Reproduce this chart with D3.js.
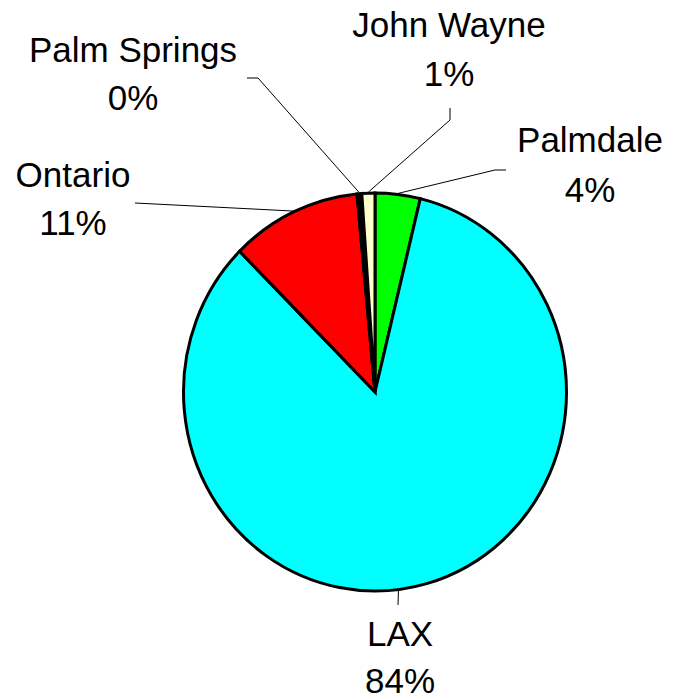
<!DOCTYPE html>
<html>
<head>
<meta charset="utf-8">
<script src="https://cdn.jsdelivr.net/npm/d3@7"></script>
<style>
  body { margin: 0; background: #fff; }
  .label { font-family: "Liberation Sans", Arial, sans-serif; font-size: 35px; fill: #000; }
  .slice { stroke: #000; stroke-width: 3px; }
  .leader { fill: none; stroke: #000; stroke-width: 1px; }
</style>
</head>
<body>
<svg id="chart" width="677" height="699"></svg>
<script>
var airports = ["Palmdale", "LAX", "Ontario", "Palm Springs", "John Wayne"];
var shares = [3.8, 83.7, 11.0, 0.4, 1.1];
var pctLabels = ["4%", "84%", "11%", "0%", "1%"];
var colors = ["#00ff00", "#00ffff", "#ff0000", "#000000", "#ffffcc"];

// label placement (text centre + first baseline, leader start/elbow)
var layout = [
  {x: 590, y: 152, dy: 49.5, lead: [[506, 170], [495, 170]]},
  {x: 400, y: 646, dy: 47, lead: [[398, 605]], angle: 173},
  {x: 73, y: 187, dy: 48, lead: [[135, 203]]},
  {x: 133, y: 62, dy: 48, lead: [[247, 78], [258, 78]]},
  {x: 449, y: 37, dy: 49, lead: [[450, 108], [450, 120]]}
];

var svg = d3.select("#chart"),
    cx = 375, cy = 392,
    rx = 191.5, ry = 199;

var pie = d3.pie().sort(null).value(function(d) { return d; });
var arcs = pie(shares);
var arc = d3.arc().innerRadius(0).outerRadius(rx);

var g = svg.append("g")
    .attr("transform", "translate(" + cx + "," + cy + ") scale(1," + (ry / rx) + ")");

g.selectAll(".slice")
    .data(arcs)
    .enter().append("path")
    .attr("class", "slice")
    .attr("vector-effect", "non-scaling-stroke")
    .attr("fill", function(d, i) { return colors[i]; })
    .attr("d", arc);

function edgePoint(a) {
  return [cx + (rx + 1) * Math.sin(a), cy - (ry + 1) * Math.cos(a)];
}

var line = d3.line();

svg.selectAll(".leader")
    .data(arcs)
    .enter().append("path")
    .attr("class", "leader")
    .attr("d", function(d, i) {
      var l = layout[i];
      var a = l.angle != null ? l.angle * Math.PI / 180 : (d.startAngle + d.endAngle) / 2;
      return line(l.lead.concat([edgePoint(a)]));
    });

var labels = svg.selectAll(".label")
    .data(airports)
    .enter().append("text")
    .attr("class", "label")
    .attr("text-anchor", "middle")
    .attr("x", function(d, i) { return layout[i].x; })
    .attr("y", function(d, i) { return layout[i].y; });

labels.append("tspan")
    .attr("x", function(d, i) { return layout[i].x; })
    .text(function(d) { return d; });

labels.append("tspan")
    .attr("x", function(d, i) { return layout[i].x; })
    .attr("dy", function(d, i) { return layout[i].dy; })
    .text(function(d, i) { return pctLabels[i]; });
</script>
</body>
</html>
